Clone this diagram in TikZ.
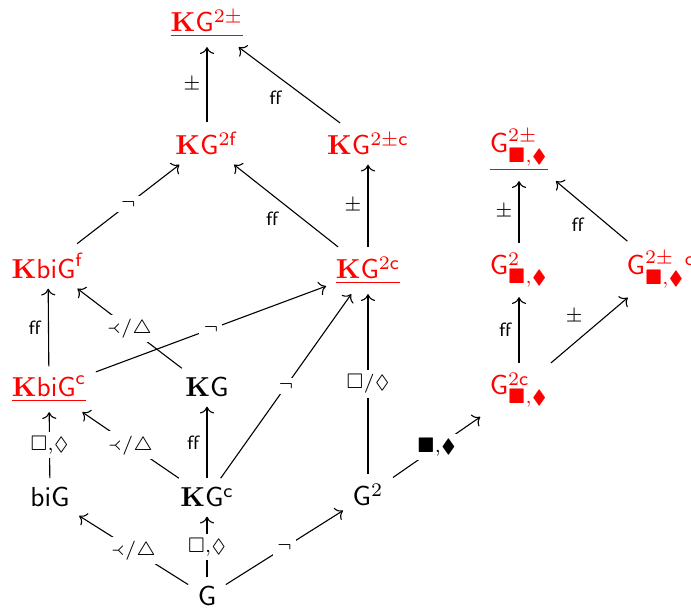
\documentclass[tikz,border=0pt]{standalone}
\usepackage{amsmath,amssymb,stmaryrd}
\usetikzlibrary{arrows.meta}
\newcommand\myK{\mathbf{K}}
\newcommand\myG{\mathsf{G}}
\newcommand\myY{{\Yleft}}
\begin{document}
\begin{tikzpicture}[x=0.0128cm,y=-0.0128cm,
  obj/.style={anchor=base, inner sep=3.33pt},
  hl/.style={text=red},
  arr/.style={->, line width=0.4pt},
  side/.style={auto, font=\scriptsize, inner sep=2.2pt},
  desc/.style={fill=white, font=\scriptsize, inner sep=1.5pt, anchor=center}]
\useasboundingbox (0,0) rectangle (691,609);
% nodes
\node[obj,hl] (kg2pm) at (207,32) {$\underline{\myK\myG^{2\pm}}$};
\node[obj,hl] (kg2f) at (207,155) {$\myK\myG^{2\mathsf{f}}$};
\node[obj,hl] (kg2pmc) at (368,155) {$\myK\myG^{2\pm\mathsf{c}}$};
\node[obj,hl] (g2pm) at (519,153) {$\underline{\myG^{2\pm}_{\blacksquare,\blacklozenge}}$};
\node[obj,hl] (kbigf) at (48,279) {$\myK\mathsf{biG}^{\mathsf{f}}$};
\node[obj,hl] (kg2c) at (368,279) {$\underline{\myK\myG^{2\mathsf{c}}}$};
\node[obj,hl] (g2) at (519,275) {$\myG^{2}_{\blacksquare,\blacklozenge}$};
\node[obj,hl] (g2pmc) at (661,275) {$\myG^{2\pm}_{\blacksquare,\blacklozenge}{}^{\mathsf{c}}$};
\node[obj,hl] (kbigc) at (49,397) {$\underline{\myK\mathsf{biG}^{\mathsf{c}}}$};
\node[obj] (kg) at (207,397) {$\myK\myG$};
\node[obj,hl] (g2c) at (519,395) {$\myG^{2\mathsf{c}}_{\blacksquare,\blacklozenge}$};
\node[obj] (big) at (50,507) {$\mathsf{biG}$};
\node[obj] (kgc) at (207,507) {$\myK\myG^{\mathsf{c}}$};
\node[obj] (gsq) at (368,506) {$\myG^{2}$};
\node[obj] (g) at (207,606) {$\myG$};
% arrows
\draw[arr] (kg2f) -- node[side]{$\pm$} (kg2pm);
\draw[arr] (kg2pmc) -- node[side]{$\mathsf{ff}$} (kg2pm);
\draw[arr] (kbigf) -- node[desc]{$\neg$} (kg2f);
\draw[arr] (kg2c) -- node[side]{$\mathsf{ff}$} (kg2f);
\draw[arr] (kg2c) -- node[side]{$\pm$} (kg2pmc);
\draw[arr] (g2) -- node[side]{$\pm$} (g2pm);
\draw[arr] (g2pmc) -- node[side]{$\mathsf{ff}$} (g2pm);
\draw[arr] (kbigc) -- node[side]{$\mathsf{ff}$} (kbigf);
\draw[arr] (kg) -- node[desc]{$\myY/\triangle$} (kbigf);
\draw[arr] (kbigc) -- node[desc]{$\neg$} (kg2c);
\draw[arr] (kgc) -- node[desc]{$\neg$} (kg2c);
\draw[arr] (gsq) -- node[desc]{$\Box/\lozenge$} (kg2c);
\draw[arr] (g2c) -- node[side]{$\mathsf{ff}$} (g2);
\draw[arr] (g2c) -- node[side]{$\pm$} (g2pmc);
\draw[arr] (big) -- node[desc]{$\Box{,}\lozenge$} (kbigc);
\draw[arr] (kgc) -- node[desc]{$\myY/\triangle$} (kbigc);
\draw[arr] (kgc) -- node[side]{$\mathsf{ff}$} (kg);
\draw[arr] (gsq) -- node[desc]{$\blacksquare{,}\blacklozenge$} (g2c);
\draw[arr] (g) -- node[desc]{$\myY/\triangle$} (big);
\draw[arr] (g) -- node[desc]{$\Box{,}\lozenge$} (kgc);
\draw[arr] (g) -- node[desc]{$\neg$} (gsq);
\end{tikzpicture}
\end{document}
